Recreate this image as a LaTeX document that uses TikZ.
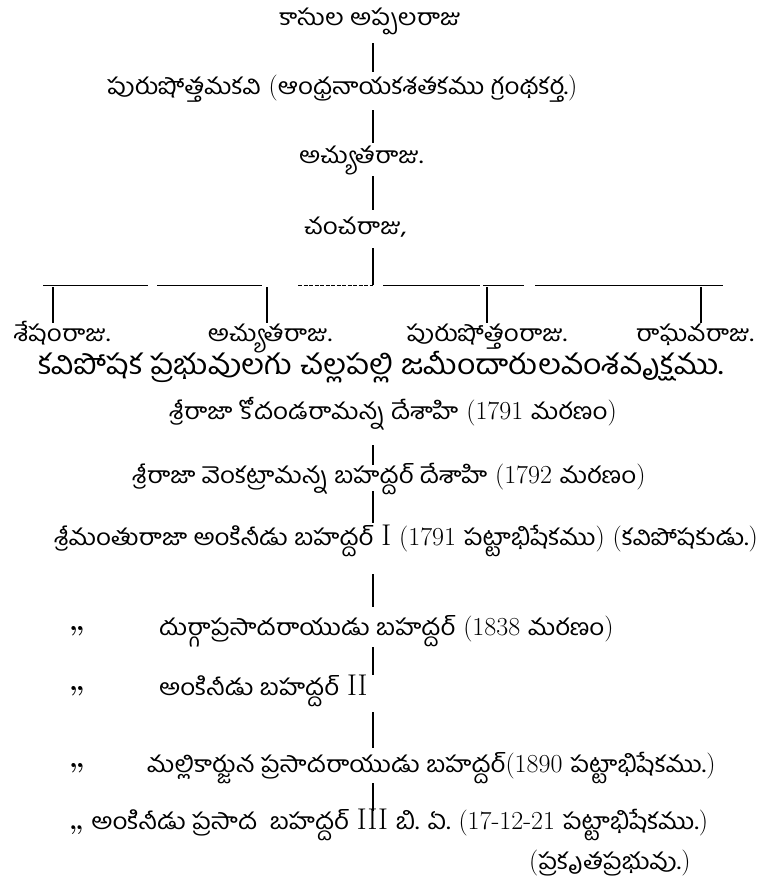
\documentclass[tikz,border=0pt]{standalone}
\usepackage{fontspec}
\newfontfamily\tel[Script=Telugu]{Hind Guntur}
\usetikzlibrary{positioning}
\newcommand{\te}[1]{\scalebox{1}[0.88]{\tel #1}}
\newcommand{\rom}[1]{{\fontsize{30}{30}\selectfont #1}}
\tikzset{
  txt/.style={anchor=west,inner xsep=0pt,inner ysep=6pt,text height=12pt,text depth=0pt,font=\fontsize{26}{30}\selectfont},
  head/.style={txt,font=\fontsize{32}{36}\selectfont},
  kid/.style={txt,anchor=center},
  ditto/.style={txt,font=\fontsize{28}{30}\selectfont\bfseries},
  vline/.style={line width=1.6pt},
  barline/.style={line width=0.9pt}
}

\begin{document}
\begin{tikzpicture}[x=1pt,y=-1pt]
\useasboundingbox (0,0) rectangle (770,887);
\coordinate (spine) at (373,0);
\coordinate (bar) at (373,285);

% upper line
\node[txt] (appala) at (279,19) {\te{కాసుల అప్పలరాజు}};
\node[txt] (purusha) at (107,88) {\te{పురుషోత్తమకవి} (\te{ఆంధ్రనాయకశతకము గ్రంథకర్త.})};
\node[txt] (achyuta) at (299,157) {\te{అచ్యుతరాజు.}};
\node[txt] (chancha) at (304,228) {\te{చంచరాజు,}};

\draw[vline,shorten <=12pt,shorten >=4pt] (appala.south -| spine) -- (purusha.north -| spine);
\draw[vline,shorten <=10pt,shorten >=2pt] (purusha.south -| spine) -- (achyuta.north -| spine);
\draw[vline,shorten <=7pt,shorten >=6pt] (achyuta.south -| spine) -- (chancha.north -| spine);
\draw[vline,shorten <=8pt] (chancha.south -| spine) -- (bar);

% the four sons
\foreach \a/\b in {43/148,157/262,383/480,483/524,535/723}
  \draw[barline] (\a,285) -- (\b,285);
\draw[barline,dash pattern=on 4pt off 1.5pt] (298,285) -- (bar);

\node[kid] (shesha) at (62,335) {\te{శేషంరాజు.}};
\node[kid] (achyuta2) at (270,335) {\te{అచ్యుతరాజు.}};
\node[kid] (purusha2) at (487,335) {\te{పురుషోత్తంరాజు.}};
\node[kid] (raghava) at (695,335) {\te{రాఘవరాజు.}};

\draw[vline,shorten <=2pt] ([xshift=-9pt]shesha.north |- bar) -- ([xshift=-9pt]shesha.north);
\draw[vline,shorten <=2pt] ([xshift=-3pt]achyuta2.north |- bar) -- ([xshift=-3pt]achyuta2.north);
\draw[vline,shorten <=2pt] (purusha2.north |- bar) -- (purusha2.north);
\draw[vline,shorten <=2pt] ([xshift=6pt]raghava.north |- bar) -- ([xshift=6pt]raghava.north);

% zamindars of Challapalli
\node[head] (title) at (38,368) {\te{కవిపోషక ప్రభువులగు చల్లపల్లి జమీందారులవంశవృక్షము.}};
\node[txt] (kodanda) at (169,413) {\te{శ్రీరాజా కోదండరామన్న దేశాహి} (1791 \te{మరణం})};
\node[txt] (venkat) at (132,477) {\te{శ్రీరాజా వెంకట్రామన్న బహద్దర్ దేశాహి} (1792 \te{మరణం})};
\node[txt] (ankineedu1) at (54,539) {\te{శ్రీమంతురాజా అంకినీడు బహద్దర్} \rom{I} (1791 \te{పట్టాభిషేకము}) (\te{కవిపోషకుడు.})};
\node[txt] (durga) at (159,629) {\te{దుర్గాప్రసాదరాయుడు బహద్దర్} (1838 \te{మరణం})};
\node[txt] (ankineedu2) at (159,689) {\te{అంకినీడు బహద్దర్} \rom{II}};
\node[txt] (mallik) at (147,766) {\te{మల్లికార్జున ప్రసాదరాయుడు బహద్దర్}(1890 \te{పట్టాభిషేకము.})};
\node[txt] (ankineedu3) at (69,823) {{\bfseries,,} \te{అంకినీడు ప్రసాద\ \ బహద్దర్} \rom{III} \te{బి. ఏ.} (17-12-21 \te{పట్టాభిషేకము.})};
\node[txt] (prakruta) at (529,863) {(\te{ప్రకృతప్రభువు.})};

\node[ditto] (ditto1) at (69,624) {,,};
\node[ditto] (ditto2) at (69,684) {,,};
\node[ditto] (ditto3) at (69,761) {,,};

\draw[vline,shorten <=20pt] (kodanda.south -| spine) -- (venkat.north -| spine);
\draw[vline,shorten <=2pt,shorten >=4pt] (venkat.south -| spine) -- (ankineedu1.north -| spine);
\draw[vline,shorten <=23pt,shorten >=10pt] (ankineedu1.south -| spine) -- (durga.north -| spine);
\draw[vline,shorten <=6pt,shorten >=2pt] (durga.south -| spine) -- (ankineedu2.north -| spine);
\draw[vline,shorten <=11pt,shorten >=6pt] (ankineedu2.south -| spine) -- (mallik.north -| spine);
\draw[vline,shorten <=5pt] (mallik.south -| spine) -- (ankineedu3.north -| spine);
\end{tikzpicture}
\end{document}
